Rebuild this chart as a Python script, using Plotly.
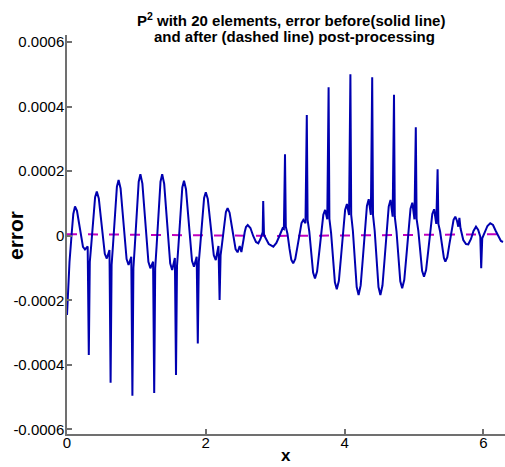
import plotly.graph_objects as go

# ---- data (x in radians, error in units of 1e-4) ----
x_before = [
    0, 0.036, 0.068, 0.091, 0.1153, 0.144, 0.173, 0.202, 0.2305, 0.259, 0.298,
    0.3142, 0.3286, 0.3502, 0.3790, 0.4050, 0.4295, 0.4582, 0.4872, 0.5162, 0.5447, 0.5732, 0.6122,
    0.6283, 0.6427, 0.6643, 0.6931, 0.7191, 0.7436, 0.7723, 0.8013, 0.8303, 0.8588, 0.8873, 0.9263,
    0.9425, 0.9569, 0.9785, 1.0073, 1.0333, 1.0578, 1.0865, 1.1155, 1.1445, 1.1730, 1.2015, 1.2405,
    1.2566, 1.2710, 1.2926, 1.3214, 1.3474, 1.3719, 1.4006, 1.4296, 1.4586, 1.4871, 1.5156, 1.5546,
    1.5708, 1.5852, 1.6068, 1.6356, 1.6616, 1.6861, 1.7148, 1.7438, 1.7728, 1.8013, 1.8298, 1.8688,
    1.8850, 1.8994, 1.9210, 1.9498, 1.9758, 2.0003, 2.0290, 2.0580, 2.0870, 2.1155, 2.1440, 2.1830,
    2.1991, 2.2135, 2.2351, 2.2639, 2.2899, 2.3144, 2.3431, 2.3721, 2.4011, 2.4296, 2.4581, 2.4891,
    2.5133, 2.5303, 2.5433, 2.5613, 2.5793, 2.6043, 2.6433, 2.6833, 2.7233, 2.7568, 2.7883, 2.8203,
    2.8274, 2.8389, 2.8674, 2.9074, 2.9734, 3.0174, 3.0674, 3.1074, 3.1254,
    3.1416, 3.1531, 3.1776, 3.2064, 3.2324, 3.2596, 3.2896, 3.3216, 3.3506, 3.3796, 3.4056, 3.4366,
    3.4558, 3.4673, 3.4918, 3.5206, 3.5466, 3.5738, 3.6038, 3.6358, 3.6648, 3.6938, 3.7198, 3.7508,
    3.7699, 3.7814, 3.8059, 3.8347, 3.8607, 3.8879, 3.9179, 3.9499, 3.9789, 4.0079, 4.0339, 4.0649,
    4.0841, 4.0956, 4.1201, 4.1489, 4.1749, 4.2021, 4.2321, 4.2641, 4.2931, 4.3221, 4.3481, 4.3791,
    4.3982, 4.4097, 4.4342, 4.4630, 4.4890, 4.5162, 4.5462, 4.5782, 4.6072, 4.6362, 4.6622, 4.6932,
    4.7124, 4.7239, 4.7484, 4.7772, 4.8032, 4.8304, 4.8604, 4.8924, 4.9214, 4.9504, 4.9764, 5.0074,
    5.0265, 5.0380, 5.0625, 5.0913, 5.1173, 5.1445, 5.1745, 5.2065, 5.2355, 5.2645, 5.2905, 5.3215,
    5.3407, 5.3522, 5.3767, 5.4055, 5.4315, 5.4527, 5.4807, 5.5107, 5.5407, 5.5707, 5.5957, 5.6207, 5.6387,
    5.6549, 5.6709, 5.7109, 5.7499, 5.7829, 5.8219, 5.8579, 5.8939, 5.9259, 5.9559,
    5.9690, 5.9840, 6.0190, 6.0590, 6.0990, 6.1390, 6.1790, 6.2190, 6.2532, 6.2832,
]
err_before_e4 = [
    -2.455, -0.812, 0.087, 0.676, 0.908, 0.775, 0.397, -0.031, -0.341, -0.425, -0.332,
    -3.695, -0.812, -0.267, 0.605, 1.194, 1.367, 1.159, 0.580, -0.084, -0.558, -0.704, -0.440,
    -4.554, -0.905, -0.246, 0.808, 1.519, 1.730, 1.466, 0.729, -0.115, -0.721, -0.905, -0.648,
    -4.957, -0.998, -0.273, 0.890, 1.674, 1.907, 1.615, 0.800, -0.133, -0.803, -1.008, -0.803,
    -4.873, -0.998, -0.273, 0.890, 1.674, 1.907, 1.609, 0.778, -0.171, -0.853, -1.060, -0.688,
    -4.315, -0.936, -0.276, 0.781, 1.497, 1.708, 1.442, 0.694, -0.158, -0.772, -0.958, -0.648,
    -3.333, -0.812, -0.273, 0.592, 1.175, 1.349, 1.138, 0.552, -0.121, -0.605, -0.750, -0.316,
    -1.990, -0.595, -0.233, 0.347, 0.738, 0.853, 0.716, 0.335, -0.102, -0.415, -0.512, -0.316,
    -0.502, -0.347, -0.130, 0.118, 0.273, 0.335, 0.242, -0.006, -0.192, -0.233, -0.099, 0.118,
    1.079, 0.025, -0.099, -0.254, -0.338, -0.223, 0.025, 0.233, 0.211,
    2.527, 0.282, 0.056, -0.400, -0.738, -0.853, -0.719, -0.329, 0.087, 0.397, 0.490, 0.388,
    3.745, 0.490, 0.127, -0.595, -1.138, -1.318, -1.107, -0.493, 0.164, 0.651, 0.800, 0.512,
    4.604, 0.521, 0.084, -0.787, -1.442, -1.659, -1.395, -0.626, 0.192, 0.800, 0.986, 0.645,
    5.007, 0.645, 0.149, -0.843, -1.587, -1.835, -1.538, -0.679, 0.242, 0.924, 1.132, 0.645,
    4.914, 0.645, 0.149, -0.843, -1.587, -1.835, -1.541, -0.688, 0.226, 0.904, 1.110, 0.592,
    4.365, 0.583, 0.140, -0.744, -1.407, -1.628, -1.361, -0.592, 0.229, 0.840, 1.026, 0.512,
    3.364, 0.521, 0.164, -0.552, -1.088, -1.268, -1.060, -0.453, 0.195, 0.676, 0.822, 0.366,
    2.062, 0.366, 0.133, -0.335, -0.685, -0.803, -0.663, -0.260, 0.174, 0.493, 0.592, 0.459, 0.282,
    0.552, 0.233, -0.130, -0.254, -0.264, -0.099, 0.149, 0.282, 0.180, -0.028,
    -1.008, -0.078, 0.118, 0.304, 0.388, 0.335, 0.149, -0.037, -0.161, -0.192,
]
x_after = [0, 1.0, 2.0, 3.0, 4.0, 5.0, 6.2832]
err_after_e4 = [0.050, 0.030, 0.005, -0.005, 0.010, 0.035, 0.050]

y_tick_vals = [0.0006, 0.0004, 0.0002, 0, -0.0002, -0.0004, -0.0006]
y_tick_text = ["0.0006", "0.0004", "0.0002", "0", "-0.0002", "-0.0004", "-0.0006"]
x_tick_vals = [0, 2, 4, 6]
x_tick_text = ["0", "2", "4", "6"]

err_before = [v * 1e-4 for v in err_before_e4]
err_after = [v * 1e-4 for v in err_after_e4]

FONT = "Liberation Sans, Arial, Helvetica, sans-serif"
AXC = "#707070"

fig = go.Figure()
fig.add_trace(go.Scatter(x=x_after, y=err_after, mode="lines",
                         line=dict(color="#c000c0", width=2, dash="10px,11px"),
                         hoverinfo="skip", showlegend=False))
fig.add_trace(go.Scatter(x=x_before, y=err_before, mode="lines",
                         line=dict(color="#0000b0", width=2),
                         showlegend=False))

fig.update_layout(
    width=505, height=467,
    margin=dict(l=67, r=0, t=35, b=33),
    paper_bgcolor="white", plot_bgcolor="white",
    font=dict(family=FONT, size=15, color="black"),
    xaxis=dict(range=[0, 6.312], showgrid=False, zeroline=False,
               showline=True, linecolor=AXC, linewidth=1.5,
               ticks="inside", ticklen=5, tickwidth=1.5, tickcolor=AXC,
               tickvals=x_tick_vals, ticktext=x_tick_text,
               ticklabelstandoff=-6,
               tickfont=dict(family=FONT, size=15, color="black")),
    yaxis=dict(range=[-0.000614, 0.000622], showgrid=False, zeroline=False,
               showline=True, linecolor=AXC, linewidth=1.5,
               ticks="inside", ticklen=5, tickwidth=1.5, tickcolor=AXC,
               tickvals=y_tick_vals, ticktext=y_tick_text,
               ticklabelstandoff=-2,
               tickfont=dict(family=FONT, size=15, color="black")),
    annotations=[
        dict(text="<b>P<sup>2</sup> with 20 elements, error before(solid line)</b>",
             xref="paper", yref="paper", x=0.512, y=(434 - 20) / 399,
             xanchor="center", yanchor="middle", showarrow=False,
             font=dict(family=FONT, size=15, color="black")),
        dict(text="<b>and after (dashed line) post-processing</b>",
             xref="paper", yref="paper", x=0.52, y=(434 - 36.5) / 399,
             xanchor="center", yanchor="middle", showarrow=False,
             font=dict(family=FONT, size=15, color="black")),
        dict(text="<b>error</b>", textangle=-90,
             xref="paper", yref="paper", x=(15 - 67) / 438, y=(434 - 236) / 399,
             xanchor="center", yanchor="middle", showarrow=False,
             font=dict(family=FONT, size=21, color="black")),
        dict(text="<b>x</b>",
             xref="paper", yref="paper", x=(286 - 67) / 438, y=(434 - 467) / 399,
             xanchor="center", yanchor="bottom", showarrow=False,
             font=dict(family=FONT, size=17, color="black")),
    ],
)

fig.write_html("out.html")
